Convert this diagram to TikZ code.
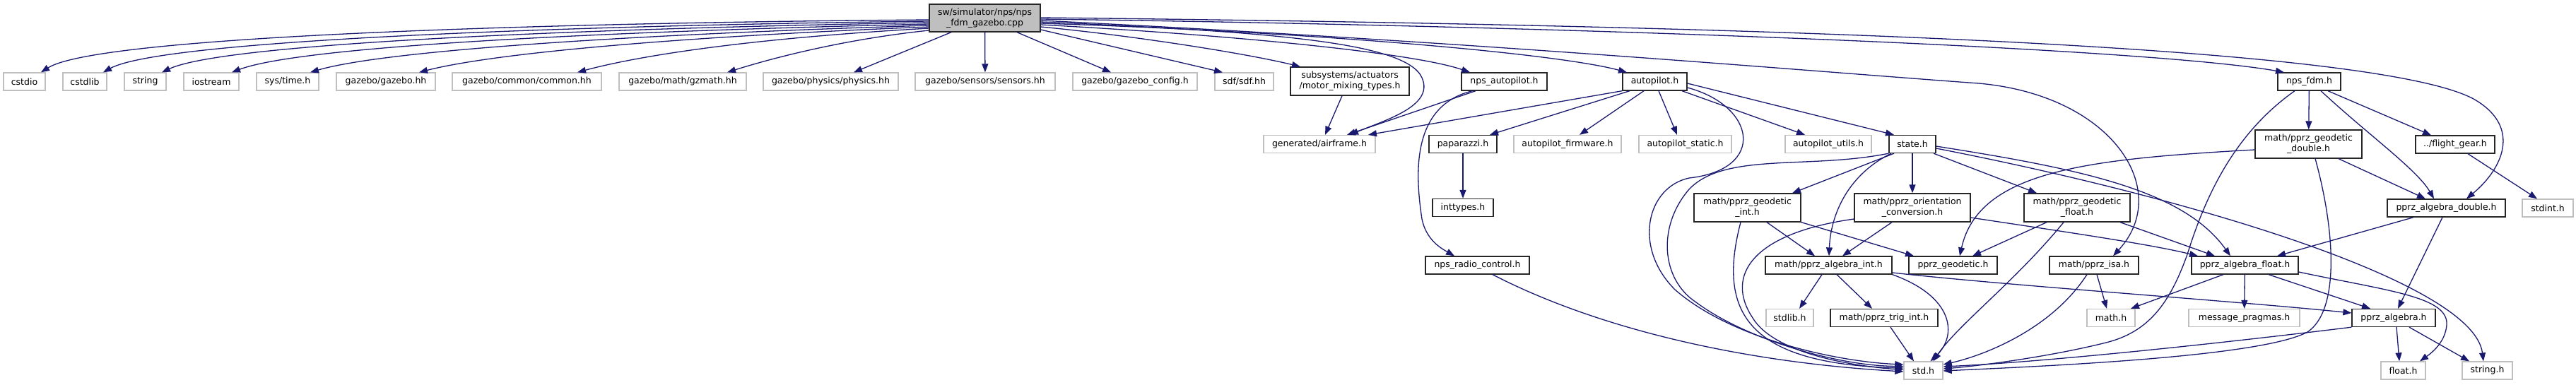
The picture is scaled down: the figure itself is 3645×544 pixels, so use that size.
\documentclass[tikz,border=0pt]{standalone}
\usepackage{fontspec}
\setmainfont{DejaVu Sans}
\usetikzlibrary{arrows.meta}
\definecolor{edgeblue}{HTML}{191970}
\definecolor{sysgray}{HTML}{BFBFBF}
\newcommand{\graphfont}{\fontsize{12.5}{15}\selectfont}

\begin{document}
\begin{tikzpicture}[
  x=1pt, y=-1pt,
  box/.style={draw, line width=1.3pt, inner sep=0pt, align=center, minimum height=25pt, font=\graphfont},
  sysbox/.style={box, draw=sysgray},
  filebox/.style={box, draw=black!85},
  twoline/.style={minimum height=40pt},
  mainbox/.style={filebox, fill=sysgray, minimum height=39pt},
  dep/.style={->, draw=edgeblue, line width=1.3pt},
  >={Triangle[length=12pt, width=9pt]}
]
\useasboundingbox (0,0) rectangle (3645,544);

% the file itself
\node[mainbox, minimum width=157pt] (root) at (1393.5,25.5) {sw/simulator/nps/nps\\\_fdm\_gazebo.cpp};

% first level of includes
\node[sysbox, minimum width=59pt] (cstdio) at (34.5,115.5) {cstdio};
\node[sysbox, minimum width=62pt] (cstdlib) at (120,115.5) {cstdlib};
\node[sysbox, minimum width=59pt] (string) at (205.5,115.5) {string};
\node[sysbox, minimum width=78pt] (iostream) at (299,115.5) {iostream};
\node[sysbox, minimum width=88pt] (systime) at (407,115.5) {sys/time.h};
\node[sysbox, minimum width=140pt] (gzgazebo) at (546,115.5) {gazebo/gazebo.hh};
\node[sysbox, minimum width=211pt] (gzcommon) at (745.5,115.5) {gazebo/common/common.hh};
\node[sysbox, minimum width=180pt] (gzmath) at (966,115.5) {gazebo/math/gzmath.hh};
\node[sysbox, minimum width=191pt] (gzphysics) at (1175.5,115.5) {gazebo/physics/physics.hh};
\node[sysbox, minimum width=198pt] (gzsensors) at (1394,115.5) {gazebo/sensors/sensors.hh};
\node[sysbox, minimum width=176pt] (gzconfig) at (1606,115.5) {gazebo/gazebo\_config.h};
\node[sysbox, minimum width=83pt] (sdf) at (1760.5,115.5) {sdf/sdf.hh};
\node[filebox, twoline, minimum width=168pt] (mixing) at (1910,115) {subsystems/actuators\\/motor\_mixing\_types.h};
\node[filebox, minimum width=121pt] (npsap) at (2128.5,115.5) {nps\_autopilot.h};
\node[filebox, minimum width=91pt] (autopilot) at (2341.5,115.5) {autopilot.h};
\node[filebox, minimum width=89pt] (npsfdm) at (3267.5,115.5) {nps\_fdm.h};

% second level
\node[sysbox, minimum width=158pt] (airframe) at (1867,204) {generated/airframe.h};
\node[filebox, minimum width=96pt] (paparazzi) at (2070,204) {paparazzi.h};
\node[sysbox, minimum width=152pt] (apfirmware) at (2218,204) {autopilot\_firmware.h};
\node[sysbox, minimum width=131pt] (apstatic) at (2384.5,204) {autopilot\_static.h};
\node[sysbox, minimum width=122pt] (aputils) at (2587,204) {autopilot\_utils.h};
\node[filebox, minimum width=66pt] (state) at (2706,204) {state.h};
\node[filebox, twoline, minimum width=151pt] (geodouble) at (3266.5,204) {math/pprz\_geodetic\\\_double.h};
\node[filebox, minimum width=112pt] (flightgear) at (3474,204.5) {../flight\_gear.h};

% third level
\node[filebox, minimum width=86pt] (inttypes) at (2070,294) {inttypes.h};
\node[filebox, twoline, minimum width=151pt] (geoint) at (2472.5,294) {math/pprz\_geodetic\\\_int.h};
\node[filebox, twoline, minimum width=164pt] (orient) at (2706,294) {math/pprz\_orientation\\\_conversion.h};
\node[filebox, twoline, minimum width=150pt] (geofloat) at (2939,294) {math/pprz\_geodetic\\\_float.h};
\node[filebox, minimum width=167pt] (algdouble) at (3461.5,294.5) {pprz\_algebra\_double.h};
\node[sysbox, minimum width=72pt] (stdint) at (3605,294.5) {stdint.h};

% fourth level
\node[filebox, minimum width=147pt] (radio) at (2090.5,375.5) {nps\_radio\_control.h};
\node[filebox, minimum width=179pt] (algint) at (2587.5,375.5) {math/pprz\_algebra\_int.h};
\node[filebox, minimum width=125pt] (geodetic) at (2763.5,375.5) {pprz\_geodetic.h};
\node[filebox, minimum width=126pt] (isa) at (2963,375.5) {math/pprz\_isa.h};
\node[filebox, minimum width=151pt] (algfloat) at (3176.5,375.5) {pprz\_algebra\_float.h};

% fifth level
\node[sysbox, minimum width=67pt] (stdlib) at (2532.5,450) {stdlib.h};
\node[filebox, minimum width=152pt] (trigint) at (2666,450) {math/pprz\_trig\_int.h};
\node[sysbox, minimum width=68pt] (mathh) at (2987,450) {math.h};
\node[sysbox, minimum width=157pt] (pragmas) at (3175.5,450) {message\_pragmas.h};
\node[filebox, minimum width=118pt] (algebra) at (3387,450) {pprz\_algebra.h};

% bottom row
\node[sysbox, minimum width=55pt] (stdh) at (2721.5,524.5) {std.h};
\node[sysbox, minimum width=63pt] (floath) at (3400.5,524.5) {float.h};
\node[sysbox, minimum width=71pt] (stringh) at (3519.5,524.5) {string.h};

% -- edges of the file itself, left fan first
\draw[dep] ([yshift=-2.5pt]root.west) .. controls (800,32) and (140,50) .. ([xshift=23.5pt]cstdio.north);
\draw[dep] ([yshift=-4.5pt]root.west) .. controls (820,36) and (230,56) .. ([xshift=26pt]cstdlib.north);
\draw[dep] ([yshift=-6.5pt]root.west) .. controls (850,40) and (320,60) .. ([xshift=23.5pt]string.north);
\draw[dep] ([yshift=-8.5pt]root.west) .. controls (880,44) and (430,64) .. ([xshift=29pt]iostream.north);
\draw[dep] ([yshift=-10.5pt]root.west) .. controls (920,48) and (550,70) .. ([xshift=32pt]systime.north);
\draw[dep] ([yshift=-12.5pt]root.west) .. controls (960,52) and (700,75) .. ([xshift=47pt]gzgazebo.north);
\draw[dep] ([yshift=-14.5pt]root.west) .. controls (1050,55) and (900,80) .. ([xshift=71.5pt]gzcommon.north);
\draw[dep] ([yshift=-17.5pt]root.west) .. controls (1200,55) and (1100,80) .. ([xshift=63pt]gzmath.north);
\draw[dep] ([xshift=-47.5pt]root.south) -- ([xshift=32.5pt]gzphysics.north);
\draw[dep] (root) -- (gzsensors);
\draw[dep] ([xshift=45.5pt]root.south) -- ([xshift=-34pt]gzconfig.north);

% -- right fan of the file
\draw[dep] ([yshift=-16.5pt]root.east) -- ([xshift=-30.5pt]sdf.north);
\draw[dep] ([yshift=-12.5pt]root.east) .. controls (1600,50) and (1760,75) .. ([xshift=-70pt]mixing.north);
\draw[dep] ([yshift=-9.5pt]root.east) .. controls (1750,50) and (2000,75) .. ([xshift=-48.5pt]npsap.north);
\draw[dep] ([yshift=-7.5pt]root.east) .. controls (1850,45) and (2200,75) .. ([xshift=-39.5pt]autopilot.north);
\draw[dep] ([yshift=-5.5pt]root.east) .. controls (1800,45) and (1990,60) .. (2012,110)
  .. controls (2030,150) and (1960,170) .. ([xshift=43pt]airframe.north);
\draw[dep] ([yshift=-3.5pt]root.east) .. controls (2100,60) and (2550,100) .. (2800,118)
  .. controls (2990,135) and (3075,270) .. ([xshift=27pt]isa.north);
\draw[dep] ([yshift=-1.5pt]root.east) .. controls (2300,38) and (3050,70) .. ([xshift=-35.5pt]npsfdm.north);
\draw[dep] ([yshift=0.5pt]root.east) .. controls (2400,35) and (3350,60) .. (3500,140)
  .. controls (3570,180) and (3540,240) .. ([xshift=28.5pt]algdouble.north);

% -- nps_autopilot.h and the mixing types
\draw[dep] ([xshift=-11pt]mixing.south) -- ([xshift=8pt]airframe.north);
\draw[dep] ([xshift=-40.5pt]npsap.south) -- ([xshift=39pt]airframe.north);
\draw[dep] ([xshift=-45pt]npsap.south) .. controls (1995,150) and (2003,250) .. (2012,310)
  .. controls (2018,340) and (2040,352) .. ([xshift=-32.5pt]radio.north);
\draw[dep] ([xshift=21.5pt]radio.south) .. controls (2250,460) and (2450,512) .. ([yshift=-1.5pt]stdh.west);

% -- autopilot.h
\draw[dep] (autopilot.south west) -- ([xshift=69pt]airframe.north);
\draw[dep] ([xshift=-35.5pt]autopilot.south) -- ([xshift=38pt]paparazzi.north);
\draw[dep] ([xshift=-15.5pt]autopilot.south) -- ([xshift=17pt]apfirmware.north);
\draw[dep] ([xshift=5.5pt]autopilot.south) -- ([xshift=-11.5pt]apstatic.north);
\draw[dep] ([xshift=38.5pt]autopilot.south) -- ([xshift=-33pt]aputils.north);
\draw[dep] ([yshift=-2.5pt]autopilot.east) -- ([xshift=-26pt]state.north);
\draw[dep] ([yshift=-8.5pt]autopilot.east) .. controls (2485,150) and (2500,240) .. (2390,252)
  .. controls (2330,265) and (2310,350) .. (2370,410)
  .. controls (2450,480) and (2600,512) .. ([yshift=8.5pt]stdh.west);
\draw[dep] (paparazzi) -- (inttypes);

% -- state.h
\draw[dep] ([xshift=-26pt]state.south) -- ([xshift=63.5pt]geoint.north);
\draw[dep] (state) -- (orient);
\draw[dep] ([xshift=30pt]state.south) -- ([xshift=-57pt]geofloat.north);
\draw[dep] ([xshift=-30pt]state.south) .. controls (2610,250) and (2590,310) .. ([xshift=0.5pt]algint.north);
\draw[dep] ([yshift=-3pt]state.east) .. controls (2950,240) and (3090,270) .. ([xshift=-20.5pt]algfloat.north);
\draw[dep] ([yshift=-6pt]state.east) .. controls (3100,280) and (3500,400) .. ([xshift=-5.5pt]stringh.north);
\draw[dep] (state.south west) .. controls (2560,240) and (2440,215) .. (2390,268)
  .. controls (2345,320) and (2350,395) .. (2400,428)
  .. controls (2470,480) and (2600,518) .. ([yshift=6pt]stdh.west);

% -- geodetic and orientation headers
\draw[dep] ([xshift=27.5pt]geoint.south) -- ([xshift=-19.5pt]algint.north);
\draw[dep] (geoint.south east) -- ([xshift=-55.5pt]geodetic.north);
\draw[dep] ([xshift=-9.5pt]geoint.south) .. controls (2430,440) and (2470,515) .. ([yshift=3.5pt]stdh.west);
\draw[dep] ([xshift=-29pt]orient.south) -- ([xshift=19.5pt]algint.north);
\draw[dep] ([yshift=-14pt]orient.east) .. controls (2900,325) and (3040,345) .. ([xshift=-66.5pt]algfloat.north);
\draw[dep] ([yshift=-16pt]orient.west) .. controls (2480,330) and (2440,390) .. (2480,450)
  .. controls (2510,500) and (2620,518) .. ([yshift=1pt]stdh.west);
\draw[dep] ([xshift=-43pt]geofloat.south) -- ([xshift=27.5pt]geodetic.north);
\draw[dep] ([xshift=61pt]geofloat.south) -- ([xshift=-42.5pt]algfloat.north);
\draw[dep] ([xshift=-19pt]geofloat.south) .. controls (2850,400) and (2770,460) .. ([xshift=14pt]stdh.north);
\draw[dep] ([xshift=42.5pt]geodouble.south) -- ([xshift=-29.5pt]algdouble.north);
\draw[dep] ([yshift=-8pt]geodouble.west) .. controls (2960,225) and (2800,240) .. ([xshift=9.5pt]geodetic.north);
\draw[dep] ([xshift=9.5pt]geodouble.south) .. controls (3305,330) and (3310,440) .. (3265,470)
  .. controls (3200,505) and (2900,518) .. ([yshift=-0.5pt]stdh.east);

% -- nps_fdm.h
\draw[dep] (npsfdm) -- (geodouble);
\draw[dep] ([xshift=16.5pt]npsfdm.south) .. controls (3350,190) and (3420,240) .. ([xshift=-17.5pt]algdouble.north);
\draw[dep] ([xshift=26.5pt]npsfdm.south) -- ([xshift=-34pt]flightgear.north);
\draw[dep] ([xshift=-20.5pt]npsfdm.south) .. controls (3160,190) and (3120,280) .. (3095,360)
  .. controls (3070,430) and (3040,470) .. (2980,485)
  .. controls (2900,505) and (2800,518) .. ([yshift=2.5pt]stdh.east);
\draw[dep] ([xshift=18pt]flightgear.south) -- ([xshift=-15pt]stdint.north);

% -- algebra headers
\draw[dep] ([xshift=-46.5pt]algdouble.south) -- ([xshift=45.5pt]algfloat.north);
\draw[dep] ([xshift=-5.5pt]algdouble.south) -- ([xshift=6pt]algebra.north);
\draw[dep] ([xshift=-9.5pt]algint.south) -- ([xshift=13.5pt]stdlib.north);
\draw[dep] ([xshift=11.5pt]algint.south) -- ([xshift=-17pt]trigint.north);
\draw[dep] (algint.south east) .. controls (2765,420) and (2770,475) .. ([xshift=10pt]stdh.north);
\draw[dep] ([yshift=-10.5pt]algint.east) .. controls (2850,405) and (3150,425) .. ([yshift=7pt]algebra.west);
\draw[dep] ([xshift=9pt]trigint.south) -- ([xshift=-13.5pt]stdh.north);
\draw[dep] ([xshift=4pt]isa.south) -- ([xshift=-6pt]mathh.north);
\draw[dep] ([xshift=-10pt]isa.south) .. controls (2900,470) and (2800,505) .. ([yshift=8.5pt]stdh.east);
\draw[dep] ([xshift=-30.5pt]algfloat.south) -- ([xshift=28pt]mathh.north);
\draw[dep] (algfloat) -- (pragmas);
\draw[dep] ([xshift=33.5pt]algfloat.south) -- ([xshift=-33pt]algebra.north);
\draw[dep] ([yshift=-9.5pt]algfloat.east) .. controls (3380,412) and (3465,420) .. (3462,460)
  .. controls (3460,485) and (3440,500) .. ([xshift=23.5pt]floath.north);
\draw[dep] ([xshift=4pt]algebra.south) -- ([xshift=-5.5pt]floath.north);
\draw[dep] ([xshift=22pt]algebra.south) -- ([xshift=-25.5pt]stringh.north);
\draw[dep] (algebra.south west) .. controls (3150,485) and (2900,512) .. ([yshift=5.5pt]stdh.east);
\end{tikzpicture}
\end{document}
